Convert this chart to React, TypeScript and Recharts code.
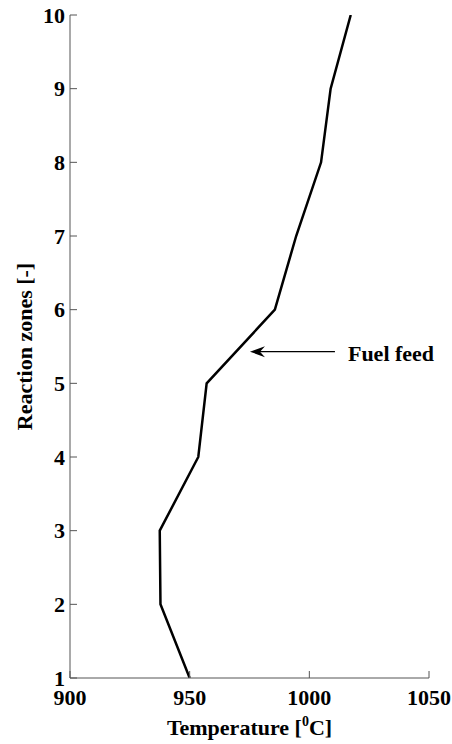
import React from 'react';
import { LineChart, Line, XAxis, YAxis, ReferenceLine } from 'recharts';

// ---- data ----
const zones = [1, 2, 3, 4, 5, 6, 7, 8, 9, 10];
const temperatures = [950, 937.8, 937.5, 953.6, 957.1, 985.6, 994.5, 1004.9, 1008.9, 1017.3];
const xTicks = [900, 950, 1000, 1050];
const yTicks = [1, 2, 3, 4, 5, 6, 7, 8, 9, 10];
const xDomain = [900, 1050];
const yDomain = [1, 10];
const xTitle = 'Temperature [';
const xTitleSup = '0';
const xTitleEnd = 'C]';
const yTitle = 'Reaction zones [-]';
const annotationText = 'Fuel feed';
const arrowTail = { x: 1010.7, y: 5.43 };
const arrowTip = { x: 975.2, y: 5.43 };

const data = zones.map((z, i) => ({ zone: z, temp: temperatures[i] }));

const FONT = "'Liberation Serif', 'Times New Roman', serif";
const FS = 22;
const AXIS_COLOR = '#555';
const TICK_LEN = 7;
const Y_MARGIN = 5;
const X_MARGIN = 4;

const YTick = (props: any) => {
  const { x, y, payload } = props;
  const ax = x + Y_MARGIN;
  return (
    <g>
      <line x1={ax} x2={ax + TICK_LEN} y1={y} y2={y} stroke={AXIS_COLOR} strokeWidth={1} />
      <text x={x} y={y} dy={7.5} textAnchor="end" fontFamily={FONT} fontWeight="bold" fontSize={FS} fill="#000">
        {payload.value}
      </text>
    </g>
  );
};

const XTick = (props: any) => {
  const { x, y, payload } = props;
  const ay = y - X_MARGIN;
  return (
    <g>
      <line x1={x} x2={x} y1={ay} y2={ay - TICK_LEN} stroke={AXIS_COLOR} strokeWidth={1} />
      <text x={x} y={y} dy={22.5} textAnchor="middle" fontFamily={FONT} fontWeight="bold" fontSize={FS} fill="#000">
        {payload.value}
      </text>
    </g>
  );
};

const XTitle = (props: any) => {
  const vb = props.viewBox || {};
  const cx = vb.x + vb.width / 2;
  const by = vb.y + 57;
  return (
    <text x={cx} y={by} textAnchor="middle" fontFamily={FONT} fontWeight="bold" fontSize={FS} fill="#000">
      {xTitle}
      <tspan fontSize={14} dy={-9}>{xTitleSup}</tspan>
      <tspan dy={9}>{xTitleEnd}</tspan>
    </text>
  );
};

const YTitle = (props: any) => {
  const vb = props.viewBox || {};
  const cy = vb.y + vb.height / 2;
  const bx = 32;
  return (
    <text
      x={bx}
      y={cy}
      transform={`rotate(-90, ${bx}, ${cy})`}
      textAnchor="middle"
      fontFamily={FONT}
      fontWeight="bold"
      fontSize={FS}
      fill="#000"
    >
      {yTitle}
    </text>
  );
};

const ArrowShape = (props: any) => {
  const { x1, y1, x2, y2 } = props;
  return (
    <g>
      <line x1={x1} y1={y1} x2={x2 + 8} y2={y2} stroke="#000" strokeWidth={1.2} />
      <polygon
        points={`${x2},${y2} ${x2 + 15},${y2 - 5.5} ${x2 + 10},${y2} ${x2 + 15},${y2 + 5.5}`}
        fill="#000"
      />
      <text x={x1 + 13} y={y1 + 9.5} fontFamily={FONT} fontWeight="bold" fontSize={FS} fill="#000">
        {annotationText}
      </text>
    </g>
  );
};

export default function App() {
  return (
    <div style={{ position: 'absolute', left: 0, top: 0, background: '#fff' }}>
      <LineChart
        width={452}
        height={744}
        data={data}
        margin={{ top: 15, right: 23, bottom: 0, left: 0 }}
      >
        <XAxis
          type="number"
          dataKey="temp"
          domain={xDomain}
          ticks={xTicks}
          allowDataOverflow
          height={66}
          tickSize={0}
          tickMargin={X_MARGIN}
          tickLine={false}
          axisLine={{ stroke: AXIS_COLOR, strokeWidth: 1 }}
          tick={<XTick />}
          interval={0}
          label={<XTitle />}
        />
        <YAxis
          type="number"
          dataKey="zone"
          domain={yDomain}
          ticks={yTicks}
          allowDataOverflow
          width={70}
          tickSize={0}
          tickMargin={Y_MARGIN}
          tickLine={false}
          axisLine={{ stroke: AXIS_COLOR, strokeWidth: 1 }}
          tick={<YTick />}
          interval={0}
          label={<YTitle />}
        />
        <Line
          type="linear"
          dataKey="zone"
          stroke="#000"
          strokeWidth={2.5}
          dot={false}
          activeDot={false}
          isAnimationActive={false}
        />
        <ReferenceLine
          segment={[arrowTail, arrowTip]}
          shape={<ArrowShape />}
          ifOverflow="visible"
        />
      </LineChart>
    </div>
  );
}
